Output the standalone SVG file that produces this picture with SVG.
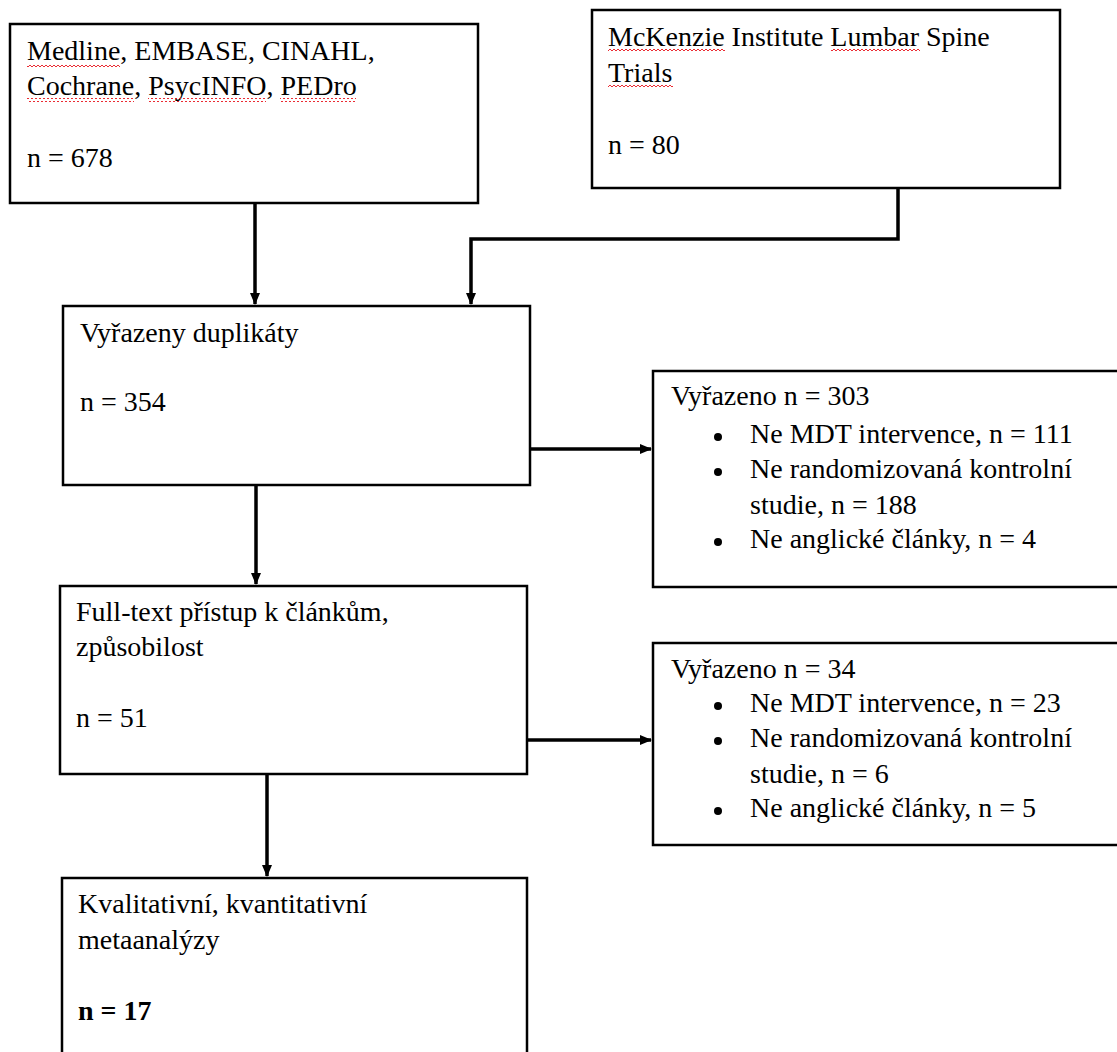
<svg xmlns="http://www.w3.org/2000/svg" width="1117" height="1052" viewBox="0 0 1117 1052">
<defs>
<style>
.box{fill:#fff;stroke:#000;stroke-width:2.5}
.t{font-family:"Liberation Serif","Times New Roman",serif;font-size:28px;fill:#000}
.b{font-weight:bold}
.c{fill:none;stroke:#000;stroke-width:3.5}
.sq{fill:url(#wave)}
</style>
<pattern id="wave" width="4" height="4" patternUnits="userSpaceOnUse">
<polyline points="0,3 2,1 4,3" fill="none" stroke="#e8141c" stroke-width="0.9"/>
</pattern>
<marker id="ah" markerWidth="12" markerHeight="10" refX="11" refY="5" orient="auto" markerUnits="userSpaceOnUse">
<path d="M0,0 L12,5 L0,10 Z" fill="#000"/>
</marker>
</defs>
<rect width="1117" height="1052" fill="#fff"/>

<g id="connectors">
<line class="c" x1="255" y1="203" x2="255" y2="304" marker-end="url(#ah)"/>
<polyline class="c" points="898,188 898,239 471,239 471,304" marker-end="url(#ah)"/>
<line class="c" x1="530" y1="449" x2="651" y2="449" marker-end="url(#ah)"/>
<line class="c" x1="256" y1="485" x2="256" y2="584" marker-end="url(#ah)"/>
<line class="c" x1="527" y1="740" x2="651" y2="740" marker-end="url(#ah)"/>
<line class="c" x1="267" y1="774" x2="267" y2="876" marker-end="url(#ah)"/>
</g>

<g id="n1">
<rect class="box" x="10" y="24" width="468" height="179"/>
<text class="t" x="27" y="60">Medline, EMBASE, CINAHL,</text>
<text class="t" x="27" y="95">Cochrane, PsycINFO, PEDro</text>
<text class="t" x="27" y="167">n = 678</text>
<rect class="sq" x="27" y="63" width="93" height="4"/>
<rect class="sq" x="27" y="98" width="107" height="4"/>
<rect class="sq" x="148" y="98" width="118" height="4"/>
<rect class="sq" x="280" y="98" width="76" height="4"/>
</g>

<g id="n2">
<rect class="box" x="592" y="10" width="468" height="178"/>
<text class="t" x="608" y="46">McKenzie Institute Lumbar Spine</text>
<text class="t" x="608" y="82">Trials</text>
<text class="t" x="608" y="154">n = 80</text>
<rect class="sq" x="608" y="49" width="117" height="4"/>
<rect class="sq" x="831" y="49" width="89" height="4"/>
<rect class="sq" x="608" y="85" width="65" height="4"/>
</g>

<g id="n3">
<rect class="box" x="63" y="306" width="467" height="179"/>
<text class="t" x="80" y="342">Vyřazeny duplikáty</text>
<text class="t" x="80" y="411">n = 354</text>
</g>

<g id="n4">
<rect class="box" x="653" y="371" width="466" height="216"/>
<text class="t" x="671" y="405">Vyřazeno n = 303</text>
<circle cx="718" cy="437" r="4"/>
<text class="t" x="750" y="443">Ne MDT intervence, n = 111</text>
<circle cx="718" cy="472" r="4"/>
<text class="t" x="750" y="478">Ne randomizovaná kontrolní</text>
<text class="t" x="750" y="514">studie, n = 188</text>
<circle cx="718" cy="542" r="4"/>
<text class="t" x="750" y="548">Ne anglické články, n = 4</text>
</g>

<g id="n5">
<rect class="box" x="60" y="586" width="467" height="188"/>
<text class="t" x="76" y="621">Full-text přístup k článkům,</text>
<text class="t" x="76" y="656">způsobilost</text>
<text class="t" x="76" y="727">n = 51</text>
</g>

<g id="n6">
<rect class="box" x="653" y="643" width="466" height="202"/>
<text class="t" x="671" y="678">Vyřazeno n = 34</text>
<circle cx="718" cy="706" r="4"/>
<text class="t" x="750" y="712">Ne MDT intervence, n = 23</text>
<circle cx="718" cy="741" r="4"/>
<text class="t" x="750" y="747">Ne randomizovaná kontrolní</text>
<text class="t" x="750" y="783">studie, n = 6</text>
<circle cx="718" cy="811" r="4"/>
<text class="t" x="750" y="817">Ne anglické články, n = 5</text>
</g>

<g id="n7">
<rect class="box" x="62" y="878" width="465" height="190"/>
<text class="t" x="78" y="913">Kvalitativní, kvantitativní</text>
<text class="t" x="78" y="949">metaanalýzy</text>
<text class="t b" x="78" y="1020">n = 17</text>
</g>
</svg>
